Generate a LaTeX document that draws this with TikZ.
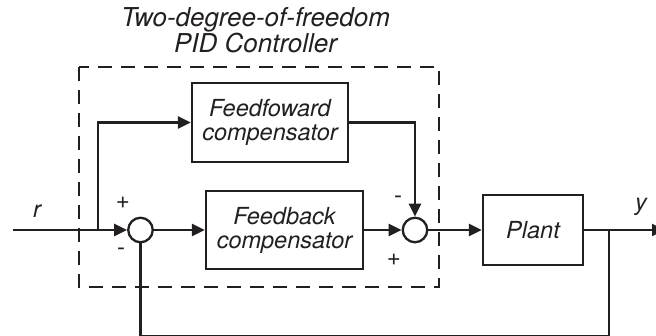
\documentclass[tikz,border=0pt]{standalone}
\usepackage{fontspec}
\setmainfont{TeX Gyre Heros}
\usetikzlibrary{arrows.meta}
\definecolor{ink}{HTML}{231F20}
\begin{document}
\begin{tikzpicture}[x=1pt,y=-1pt,line width=2.3pt,color=ink,
  lbl/.style={font=\fontsize{23.5}{24}\selectfont\itshape, align=center},
  ttl/.style={font=\fontsize{26}{26}\selectfont\itshape, align=center, inner sep=0pt},
  blk/.style={draw, lbl, inner sep=0pt},
  sumc/.style={draw, circle, minimum size=24.5pt, inner sep=0pt},
  sig/.style={-{Triangle[length=13pt,width=12pt]}},
  sgn/.style={font=\fontsize{24}{24}\selectfont, inner sep=0pt},
  dashbox/.style={dash pattern=on 14pt off 9pt}]
\useasboundingbox (0,0) rectangle (656,336);
\node[ttl, anchor=base] (title) at (255.5,53) {Two-degree-of-freedom\\PID Controller};
\draw[dashbox] (79,67) rectangle (439,287);
\node[blk, minimum width=156pt, minimum height=79pt] (ff) at (270,122.5) {Feedfoward\\compensator};
\node[blk, minimum width=157pt, minimum height=78pt] (fb) at (284.5,230) {Feedback\\compensator};
\node[blk, minimum width=100pt, minimum height=70pt] (plant) at (533,230) {Plant};
\node[sumc] (s1) at (140.5,230) {};
\node[sumc] (s2) at (415,230) {};
\coordinate (in) at (13,230);
\coordinate (br) at (98,230);
\coordinate (out) at (665,230);
\coordinate (yb) at (609,230);
\coordinate (br1) at (609,336.4);
\coordinate (bl1) at (140.5,336.4);
\draw[sig] (in) -- (s1);
\draw[sig] (br) |- (ff);
\draw[sig] (ff) -| (s2);
\draw[sig] (s1) -- (fb);
\draw[sig] (fb) -- (s2);
\draw[sig] (s2) -- (plant);
\draw[sig] (plant) -- (out);
\draw (yb) -- (br1) -- (bl1) -- (s1);
\node[lbl, inner sep=0pt] (r) at (37,211) {r};
\node[lbl, inner sep=0pt] (y) at (641,207) {y};
\node[sgn] (p1) at (123,203) {+};
\node[sgn] (m1) at (121,252) {-};
\node[sgn] (m2) at (398,200) {-};
\node[sgn] (p2) at (394,260) {+};
\end{tikzpicture}
\end{document}
